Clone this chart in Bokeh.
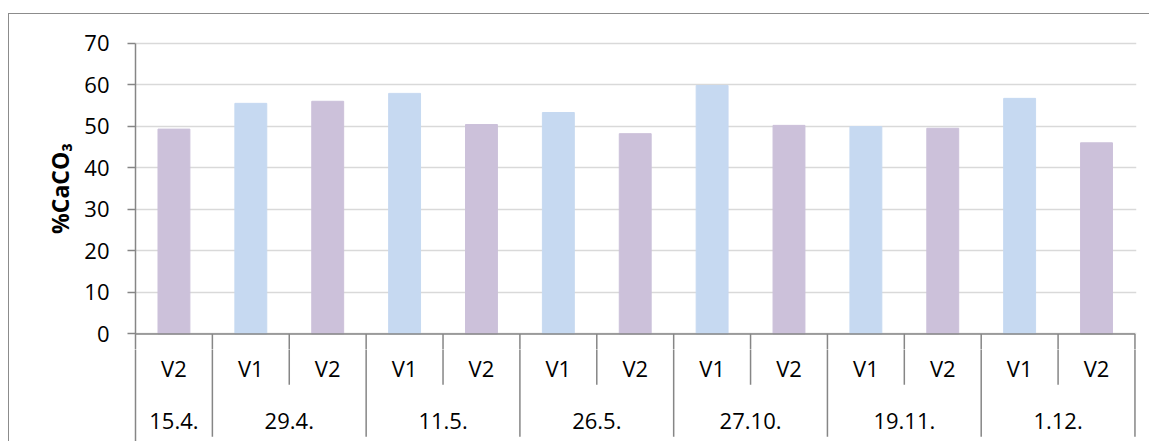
import numpy as np
from bokeh.plotting import figure
from bokeh.models import FixedTicker, ColumnDataSource, Range1d
from bokeh.layouts import column
from bokeh.core.properties import value
from bokeh.embed import file_html
from bokeh.resources import INLINE

# ---- data ----
dates = ["15.4.", "29.4.", "29.4.", "11.5.", "11.5.", "26.5.", "26.5.",
         "27.10.", "27.10.", "19.11.", "19.11.", "1.12.", "1.12."]
variants = ["V2", "V1", "V2", "V1", "V2", "V1", "V2",
            "V1", "V2", "V1", "V2", "V1", "V2"]
caco3 = [49.3, 55.5, 56.0, 57.9, 50.4, 53.3, 48.2,
         59.8, 50.2, 49.9, 49.5, 56.7, 46.0]
y_ticks = [0, 10, 20, 30, 40, 50, 60, 70]
y_label = "%CaCO\u2083"

colors = {"V1": "#C6D9F1", "V2": "#CCC1DA"}
FONT = "Open Sans"
FS = "22px"
AXIS_COLOR = "#868686"
BORDER = "1.5px solid #8c8c8c"

n = len(caco3)
xs = np.arange(n) + 0.5
xr = Range1d(0, n + 0.02)
pad = 4.0  # value units kept below 0 / above 70 in the bar panel

# group structure of the category table
groups = []
for i, d in enumerate(dates):
    if not groups or groups[-1][0] != d:
        groups.append([d, i, i])
    else:
        groups[-1][2] = i
g_names = [g[0] for g in groups]
g_centers = [(g[1] + g[2] + 1) / 2 for g in groups]
g_edges = [g[2] + 1 for g in groups]
sub_edges = [i + 1 for i in range(n - 1) if dates[i] == dates[i + 1]]


def table_lines(fig):
    fig.segment(x0=g_edges, y0=[0] * len(g_edges), x1=g_edges, y1=[-25.0] * len(g_edges),
                line_color=AXIS_COLOR, line_width=1.5)
    fig.segment(x0=sub_edges, y0=[0] * len(sub_edges), x1=sub_edges,
                y1=[-12.5] * len(sub_edges), line_color=AXIS_COLOR, line_width=1.5)


# ---------- top: bars ----------
p = figure(width=1141, height=336, x_range=xr,
           y_range=(y_ticks[0] - pad, y_ticks[-1] + pad),
           output_backend="svg", toolbar_location=None, x_axis_location=None,
           min_border_left=126, min_border_right=14, min_border_top=12,
           min_border_bottom=0)
p.outline_line_color = None
p.styles = {"border-top": BORDER, "border-left": BORDER,
            "margin-top": "13px", "margin-left": "8px"}

p.xgrid.visible = False
p.ygrid.ticker = FixedTicker(ticks=y_ticks)
p.ygrid.grid_line_color = "#D9D9D9"
p.ygrid.grid_line_width = 1.5

ax = p.yaxis[0]
ax.ticker = FixedTicker(ticks=y_ticks)
ax.bounds = (y_ticks[0] - pad, y_ticks[-1])
ax.minor_tick_line_color = None
ax.major_tick_out = 8
ax.major_tick_in = 0
ax.axis_line_color = AXIS_COLOR
ax.major_tick_line_color = AXIS_COLOR
ax.axis_line_width = 1.5
ax.major_tick_line_width = 1.5
ax.major_label_text_font = FONT
ax.major_label_text_font_size = FS
ax.major_label_text_color = "#000000"
ax.major_label_standoff = 18
ax.axis_label = y_label
ax.axis_label_text_font = FONT
ax.axis_label_text_font_size = "23px"
ax.axis_label_text_font_style = "bold"
ax.axis_label_text_color = "#000000"
ax.axis_label_standoff = 5

src = ColumnDataSource(dict(x=xs, top=caco3, color=[colors[v] for v in variants]))
p.vbar(x="x", top="top", width=0.415, bottom=0, color="color", source=src)
table_lines(p)
p.segment(x0=[0], y0=[0], x1=[n], y1=[0], line_color=AXIS_COLOR, line_width=1.5)

# ---------- bottom: category table ----------
q = figure(width=1141, height=92, x_range=xr, y_range=(-26.15, -pad),
           output_backend="svg", toolbar_location=None, x_axis_location=None,
           min_border_left=126, min_border_right=14, min_border_top=0,
           min_border_bottom=0)
q.outline_line_color = None
q.styles = {"border-left": BORDER, "margin-left": "8px"}
q.grid.visible = False
qa = q.yaxis[0]
qa.ticker = FixedTicker(ticks=[])
qa.minor_tick_line_color = None
qa.major_tick_line_color = None
qa.axis_line_color = AXIS_COLOR
qa.axis_line_width = 1.5

q.text(x=xs, y=[-8.4] * n, text=variants, text_align="center", text_baseline="middle",
       text_font=value(FONT), text_font_size=FS, text_color="#000000")
q.text(x=g_centers, y=[-21.1] * len(groups), text=g_names, text_align="center",
       text_baseline="middle", text_font=value(FONT), text_font_size=FS,
       text_color="#000000")
table_lines(q)

layout = column(p, q, spacing=0)
open("out.html", "w").write(file_html(layout, INLINE))
